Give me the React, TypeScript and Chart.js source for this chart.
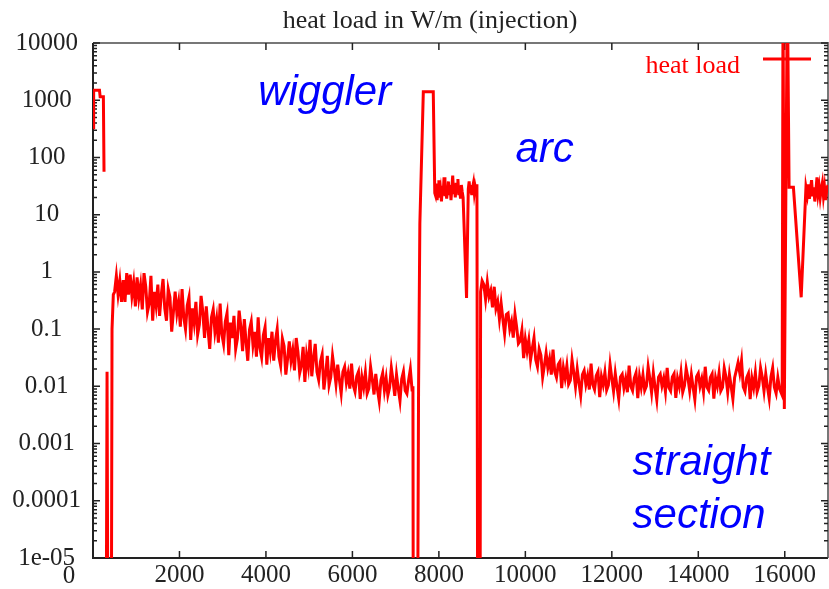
import React, { useEffect, useRef } from "react";
import { Chart, registerables } from "chart.js";

Chart.register(...registerables);

const chartTitle = "heat load in W/m (injection)";
const seriesLabel = "heat load";

const xTickValues = [0, 2000, 4000, 6000, 8000, 10000, 12000, 14000, 16000];
const yTickValues = [1e-5, 1e-4, 1e-3, 1e-2, 1e-1, 1, 10, 100, 1000, 10000];
const yTickLabels = ["1e-05", "0.0001", "0.001", "0.01", "0.1", "1", "10", "100", "1000", "10000"];
const xRange = [0, 17000];
const yRange = [1e-5, 1e4];

// [position, heat load in W/m]; 1e-8 = below plot floor, 1e5 = above plot top
const injectionBlock = [[0, 330], [15, 1500], [150, 1500], [165, 1150], [240, 1150], [255, 56], [270, null]];
const injectionRise = [[300, 1e-8], [325, 0.018], [350, 1e-8], [420, 1e-8], [440, 0.1], [470, 0.4]];
const decayBeforeWiggler = [
  [500, 0.45], [540, 0.85], [580, 0.4], [620, 0.7], [660, 0.3], [700, 0.72], [740, 0.3], [780, 0.95],
  [820, 0.4], [860, 0.9], [900, 0.38], [940, 0.65], [980, 0.25], [1020, 0.8], [1060, 0.35], [1100, 0.58],
  [1140, 0.22], [1180, 0.95], [1220, 0.55], [1260, 0.2], [1300, 0.28], [1340, 0.85], [1380, 0.14], [1420, 0.45],
  [1460, 0.26], [1500, 0.6], [1540, 0.17], [1580, 0.4], [1620, 0.75], [1660, 0.23], [1700, 0.14], [1740, 0.5],
  [1780, 0.36], [1820, 0.09], [1860, 0.2], [1900, 0.45], [1940, 0.19], [1980, 0.3], [2020, 0.11], [2060, 0.5],
  [2100, 0.16], [2140, 0.1], [2180, 0.26], [2220, 0.36], [2260, 0.065], [2300, 0.23], [2340, 0.13], [2380, 0.3],
  [2420, 0.08], [2460, 0.12], [2500, 0.38], [2540, 0.2], [2580, 0.07], [2620, 0.25], [2660, 0.1], [2700, 0.045],
  [2740, 0.16], [2780, 0.22], [2820, 0.09], [2860, 0.15], [2900, 0.058], [2940, 0.28], [2980, 0.082], [3020, 0.055],
  [3060, 0.135], [3100, 0.19], [3140, 0.035], [3180, 0.13], [3220, 0.07], [3260, 0.17], [3300, 0.045], [3340, 0.068],
  [3380, 0.21], [3420, 0.11], [3460, 0.041], [3500, 0.15], [3540, 0.06], [3580, 0.028], [3620, 0.098], [3660, 0.135],
  [3700, 0.053], [3740, 0.09], [3780, 0.033], [3820, 0.16], [3860, 0.047], [3900, 0.032], [3940, 0.078], [3980, 0.108],
  [4020, 0.024], [4060, 0.07], [4100, 0.041], [4140, 0.09], [4180, 0.028], [4220, 0.063], [4260, 0.1], [4300, 0.033],
  [4340, 0.023], [4380, 0.068], [4420, 0.05], [4460, 0.016], [4500, 0.03], [4540, 0.061], [4580, 0.028], [4620, 0.043],
  [4660, 0.019], [4700, 0.07], [4740, 0.04], [4780, 0.017], [4820, 0.023], [4860, 0.049], [4900, 0.012], [4940, 0.035],
  [4980, 0.022], [5020, 0.065], [5060, 0.015], [5100, 0.031], [5140, 0.055], [5180, 0.018], [5220, 0.013], [5260, 0.027],
  [5300, 0.036], [5340, 0.0088], [5380, 0.016], [5420, 0.034], [5460, 0.0105], [5500, 0.0145], [5540, 0.034], [5580, 0.02],
  [5620, 0.011], [5660, 0.024], [5700, 0.0128], [5740, 0.0075], [5780, 0.018], [5820, 0.022], [5860, 0.0116], [5900, 0.0168],
  [5940, 0.0091], [5980, 0.025], [6020, 0.0104], [6060, 0.0081], [6100, 0.015], [6140, 0.018], [6180, 0.006], [6220, 0.0144],
  [6260, 0.0096], [6300, 0.0173], [6340, 0.0075], [6380, 0.0092], [6420, 0.022], [6460, 0.0132], [6500, 0.0072], [6540, 0.0165],
  [6580, 0.0088], [6620, 0.0055], [6660, 0.0128], [6700, 0.017], [6740, 0.0085], [6780, 0.0138], [6820, 0.007], [6860, 0.0095],
  [6900, 0.021], [6940, 0.0125], [6980, 0.0068], [7020, 0.016], [7060, 0.0092], [7100, 0.0056], [7140, 0.0135], [7180, 0.018],
  [7220, 0.0084], [7260, 0.0074], [7300, 0.0128], [7340, 0.02], [7380, 0.0086], [7400, 0.01],
];
const wigglerSection = [
  [7410, 1e-8], [7500, 1e-8], [7530, 0.009], [7560, 7], [7640, 1400], [7870, 1400], [7905, 24],
  [7920, 22], [7940, 35], [7960, 18], [7980, 28], [8000, 40], [8020, 20], [8040, 26], [8060, 17],
  [8080, 32], [8100, 24], [8120, 45], [8140, 21], [8160, 30], [8180, 19], [8200, 27], [8220, 38],
  [8240, 22], [8260, 33], [8280, 18], [8300, 29], [8320, 48], [8340, 23], [8360, 31], [8380, 20],
  [8400, 36], [8420, 25], [8440, 42], [8460, 22], [8480, 30], [8500, 19], [8520, 33], [8540, 25],
  [8560, 20], [8640, 0.35], [8680, 28], [8700, 38], [8720, 25], [8740, 33], [8760, 22], [8780, 30],
  [8800, 36], [8820, 24], [8840, 31], [8860, 26], [8880, 34], [8900, 1e-8], [8950, 1e-8],
];
const arcDecay = [
  [8965, 0.45], [9000, 0.7], [9040, 0.6], [9080, 0.33], [9120, 0.66], [9160, 0.37], [9200, 0.47], [9240, 0.24],
  [9280, 0.55], [9320, 0.23], [9360, 0.3], [9400, 0.15], [9440, 0.28], [9480, 0.15], [9520, 0.083], [9560, 0.18],
  [9600, 0.19], [9640, 0.1], [9680, 0.135], [9720, 0.071], [9760, 0.18], [9800, 0.106], [9840, 0.056], [9880, 0.062],
  [9920, 0.095], [9960, 0.031], [10000, 0.066], [10040, 0.041], [10080, 0.064], [10120, 0.029], [10160, 0.046], [10200, 0.07],
  [10240, 0.029], [10280, 0.022], [10320, 0.045], [10360, 0.035], [10400, 0.0145], [10440, 0.023], [10480, 0.038], [10520, 0.021],
  [10560, 0.03], [10600, 0.016], [10640, 0.044], [10680, 0.018], [10720, 0.0143], [10760, 0.024], [10800, 0.027], [10840, 0.0093],
  [10880, 0.021], [10920, 0.014], [10960, 0.023], [11000, 0.0109], [11040, 0.0127], [11080, 0.029], [11120, 0.0175], [11160, 0.0099],
  [11200, 0.02], [11240, 0.0115], [11280, 0.0069], [11320, 0.016], [11360, 0.0188], [11400, 0.0108], [11440, 0.0153], [11480, 0.0088],
  [11520, 0.025], [11560, 0.0107], [11600, 0.0088], [11640, 0.0153], [11680, 0.018], [11720, 0.0065], [11760, 0.0148], [11800, 0.0107],
  [11840, 0.0175], [11880, 0.0086], [11920, 0.0105], [11960, 0.024], [12000, 0.0138], [12040, 0.0082], [12080, 0.0168], [12120, 0.0098],
  [12160, 0.006], [12200, 0.0145], [12240, 0.0162], [12280, 0.0094], [12320, 0.0136], [12360, 0.0079], [12400, 0.023], [12440, 0.01],
  [12480, 0.0084], [12520, 0.0139], [12560, 0.0171], [12600, 0.0062], [12640, 0.0147], [12680, 0.0096], [12720, 0.0158], [12760, 0.0085],
  [12800, 0.0101], [12840, 0.022], [12880, 0.0136], [12920, 0.0078], [12960, 0.0172], [13000, 0.0097], [13040, 0.0058], [13080, 0.0144],
  [13120, 0.0163], [13160, 0.0102], [13200, 0.0139], [13240, 0.0081], [13280, 0.021], [13320, 0.0095], [13360, 0.0083], [13400, 0.0146],
  [13440, 0.0166], [13480, 0.0063], [13520, 0.0137], [13560, 0.0099], [13600, 0.0174], [13640, 0.0079], [13680, 0.0102], [13720, 0.0205],
  [13760, 0.0141], [13800, 0.0084], [13840, 0.0159], [13880, 0.0096], [13920, 0.0059], [13960, 0.0148], [14000, 0.0169], [14040, 0.01],
  [14080, 0.0135], [14120, 0.008], [14160, 0.022], [14200, 0.0097], [14240, 0.0085], [14280, 0.0143], [14320, 0.0165], [14360, 0.0061],
  [14400, 0.0139], [14440, 0.0101], [14480, 0.0171], [14520, 0.0083], [14560, 0.0096], [14600, 0.0208], [14640, 0.0145], [14680, 0.0079],
  [14720, 0.016], [14760, 0.0099], [14800, 0.006], [14840, 0.0142], [14880, 0.019], [14920, 0.026], [14960, 0.017], [15000, 0.028],
  [15040, 0.0098], [15080, 0.0082], [15120, 0.0142], [15160, 0.0168], [15200, 0.006], [15240, 0.0138], [15280, 0.0095], [15320, 0.0172],
  [15360, 0.008], [15400, 0.0101], [15440, 0.021], [15480, 0.0144], [15520, 0.0083], [15560, 0.0165], [15600, 0.0097], [15640, 0.0061],
  [15680, 0.0146], [15720, 0.021], [15760, 0.0096], [15800, 0.0075], [15840, 0.0142], [15880, 0.009],
];
const straightSpike = [[15940, 0.007], [15960, 1e5], [15990, 0.004], [16060, 1e5], [16100, 30], [16200, 30], [16380, 0.36], [16490, 30]];
const endPlateau = [
  [16520, 22], [16545, 34], [16570, 19], [16595, 28], [16620, 40], [16645, 21], [16670, 30], [16695, 17],
  [16720, 26], [16745, 45], [16770, 23], [16795, 31], [16820, 20], [16845, 28], [16870, 36], [16895, 21],
  [16920, 30], [16945, 18], [16970, 27], [17000, 33],
];

// annotation anchors in data coordinates [position, heat load]
const regionLabels = [
  { text: "wiggler", at: [3820, 830] },
  { text: "arc", at: [9770, 84] },
  { text: "straight", at: [12480, 2.8e-4] },
  { text: "section", at: [12480, 3.35e-5] },
];

const SERIF = "'Liberation Serif', 'Times New Roman', serif";
const SANS = "'Liberation Sans', Arial, sans-serif";
const RED = "#ff0000";

export default function App() {
  const ref = useRef<HTMLCanvasElement>(null);

  useEffect(() => {
    const canvas = ref.current;
    if (!canvas) return;
    const series = [
      ...injectionBlock, ...injectionRise, ...decayBeforeWiggler, ...wigglerSection,
      ...arcDecay, ...straightSpike, ...endPlateau,
    ].map(([x, y]) => ({ x: x as number, y: y as number | null }));

    const overlay = {
      id: "overlay",
      beforeDatasetsDraw(chart: any) {
        const { ctx, chartArea: a, scales } = chart;
        const xs = scales.x, ys = scales.y;
        ctx.save();
        ctx.lineWidth = 2;
        ctx.strokeStyle = "#222";
        ctx.beginPath();
        ctx.moveTo(a.left, a.top); ctx.lineTo(a.left, a.bottom); ctx.lineTo(a.right, a.bottom);
        ctx.stroke();
        ctx.strokeStyle = "#777";
        ctx.beginPath();
        ctx.moveTo(a.left, a.top); ctx.lineTo(a.right, a.top); ctx.lineTo(a.right, a.bottom);
        ctx.stroke();
        ctx.lineWidth = 1.5;
        ctx.strokeStyle = "#222";
        ctx.beginPath();
        for (const v of yTickValues) {
          const y = ys.getPixelForValue(v);
          ctx.moveTo(a.left, y); ctx.lineTo(a.left + 7, y);
          ctx.moveTo(a.right, y); ctx.lineTo(a.right - 7, y);
          if (v < yRange[1]) {
            for (let m = 2; m <= 9; m++) {
              const ym = ys.getPixelForValue(v * m);
              ctx.moveTo(a.left, ym); ctx.lineTo(a.left + 4, ym);
              ctx.moveTo(a.right, ym); ctx.lineTo(a.right - 4, ym);
            }
          }
        }
        for (const v of xTickValues) {
          const x = xs.getPixelForValue(v);
          ctx.moveTo(x, a.bottom); ctx.lineTo(x, a.bottom - 7);
          ctx.moveTo(x, a.top); ctx.lineTo(x, a.top + 7);
        }
        ctx.stroke();
        ctx.restore();
      },
      afterDatasetsDraw(chart: any) {
        const { ctx, chartArea: a, scales } = chart;
        ctx.save();
        ctx.fillStyle = "#222";
        ctx.font = `26px ${SERIF}`;
        ctx.textAlign = "center";
        ctx.textBaseline = "alphabetic";
        ctx.fillText(chartTitle, 430, 28);
        ctx.font = `25px ${SERIF}`;
        ctx.fillText(String(xTickValues[0]), a.left - 24, a.bottom + 25);
        ctx.fillStyle = RED;
        ctx.font = `26px ${SERIF}`;
        ctx.textAlign = "right";
        ctx.fillText(seriesLabel, a.right - 88, a.top + 30);
        ctx.strokeStyle = RED;
        ctx.lineWidth = 3;
        ctx.beginPath();
        ctx.moveTo(a.right - 65, a.top + 16);
        ctx.lineTo(a.right - 17, a.top + 16);
        ctx.stroke();
        ctx.fillStyle = "#0000ff";
        ctx.font = `italic 42px ${SANS}`;
        ctx.textAlign = "left";
        for (const r of regionLabels) {
          ctx.fillText(r.text, scales.x.getPixelForValue(r.at[0]), scales.y.getPixelForValue(r.at[1]));
        }
        ctx.restore();
      },
    };

    const chart = new Chart(canvas, {
      type: "line",
      data: {
        datasets: [
          {
            label: seriesLabel,
            data: series as any,
            borderColor: RED,
            borderWidth: 3,
            pointRadius: 0,
            tension: 0,
            spanGaps: false,
            clip: 0 as any,
          },
        ],
      },
      options: {
        animation: false,
        responsive: true,
        maintainAspectRatio: false,
        layout: { padding: { top: 43, right: 1, left: 0, bottom: 0 } },
        plugins: { legend: { display: false }, title: { display: false }, tooltip: { enabled: false } },
        scales: {
          x: {
            type: "linear",
            min: xRange[0],
            max: xRange[1],
            grid: { display: false, drawTicks: false },
            border: { display: false },
            afterBuildTicks: (s: any) => { s.ticks = xTickValues.map((v) => ({ value: v })); },
            afterFit: (s: any) => { s.height = 31; },
            ticks: {
              font: { family: SERIF, size: 25 },
              color: "#222",
              padding: 2,
              maxRotation: 0,
              autoSkip: false,
              callback: (v: any) => (v === 0 ? "" : String(v)),
            },
          },
          y: {
            type: "logarithmic",
            min: yRange[0],
            max: yRange[1],
            grid: { display: false, drawTicks: false },
            border: { display: false },
            afterBuildTicks: (s: any) => { s.ticks = yTickValues.map((v) => ({ value: v })); },
            afterFit: (s: any) => { s.width = 93; },
            ticks: {
              font: { family: SERIF, size: 25 },
              color: "#222",
              padding: 12,
              crossAlign: "center",
              autoSkip: false,
              callback: (_v: any, i: number) => yTickLabels[i],
            },
          },
        },
      },
      plugins: [overlay],
    });
    return () => chart.destroy();
  }, []);

  return (
    <div style={{ position: "fixed", left: 0, top: 0, width: 829, height: 589, background: "#fff" }}>
      <canvas ref={ref} />
    </div>
  );
}
